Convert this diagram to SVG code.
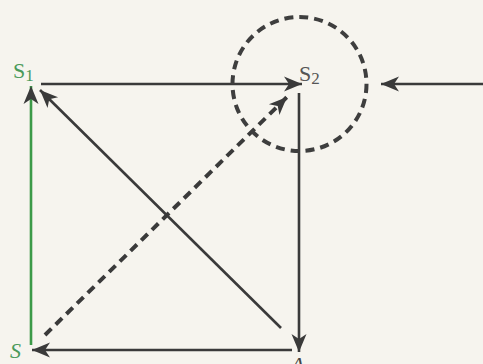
<svg xmlns="http://www.w3.org/2000/svg" width="483" height="364" viewBox="0 0 483 364">
<defs>
<marker id="ah" markerUnits="userSpaceOnUse" markerWidth="22" markerHeight="18" viewBox="-19 -9 21 18" refX="0" refY="0" orient="auto">
<path d="M0,0 L-18,-7.5 L-13,0 L-18,7.5 Z" fill="#3a3a3a"/>
</marker>
</defs>
<style>
.ln{stroke:#3a3a3a;stroke-width:2.6;fill:none}
.gr{stroke:#3c9a48}
.dash{stroke-dasharray:9 6;stroke-width:4}
.lbl{font-family:"Liberation Serif","DejaVu Serif",serif;font-size:22px}
</style>
<rect width="483" height="364" fill="#f6f4ee"/>
<g id="connectors">
<line class="ln gr" x1="31" y1="345" x2="31" y2="86" marker-end="url(#ah)"/>
<line class="ln" x1="41" y1="84" x2="302" y2="84" marker-end="url(#ah)"/>
<line class="ln" x1="299" y1="93" x2="299" y2="352" marker-end="url(#ah)"/>
<line class="ln" x1="292" y1="350" x2="32" y2="350" marker-end="url(#ah)"/>
<line class="ln" x1="281" y1="328" x2="40" y2="90" marker-end="url(#ah)"/>
<line class="ln dash" x1="45" y1="335" x2="287" y2="97" marker-end="url(#ah)"/>
<line class="ln" x1="483" y1="84" x2="381" y2="84" marker-end="url(#ah)"/>
</g>
<g id="circle">
<circle cx="299.5" cy="84" r="67" fill="none" stroke="#3e3e3e" stroke-width="4" stroke-dasharray="9 6"/>
</g>
<g id="S1">
<text class="lbl" x="13" y="78" fill="#4a9a5a">S<tspan font-size="17" dy="3">1</tspan></text>
</g>
<g id="S2">
<text class="lbl" x="299" y="81" fill="#555">S<tspan font-size="17" dy="3">2</tspan></text>
</g>
<g id="S">
<text class="lbl" x="10" y="358" fill="#4a9a5a" font-style="italic" font-size="17">S</text>
</g>
<g id="A">
<text class="lbl" x="291" y="372" fill="#444" font-style="italic">A</text>
</g>
</svg>
